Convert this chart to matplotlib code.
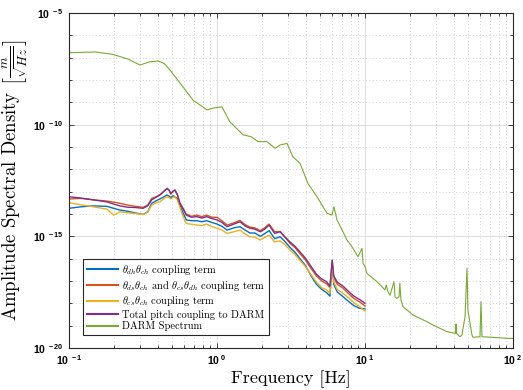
import matplotlib
matplotlib.use("Agg")

import matplotlib.pyplot as plt
import matplotlib.ticker as mticker
import numpy as np

# Frequencies (Hz) shared by the four pitch coupling curves
coupling_freq = [0.1, 0.12, 0.146, 0.18, 0.2, 0.221, 0.25, 0.28, 0.317, 0.34,
                 0.362, 0.39, 0.412, 0.44, 0.46, 0.475, 0.488, 0.505, 0.52, 0.54,
                 0.56, 0.59, 0.62, 0.67, 0.73, 0.79, 0.85, 0.92, 1.0, 1.08,
                 1.17, 1.3, 1.43, 1.55, 1.67, 1.8, 1.96, 2.1, 2.25, 2.45,
                 2.67, 2.85, 3.1, 3.35, 3.64, 3.95, 4.3, 4.7, 5.1, 5.5,
                 5.8, 6.0, 6.15, 6.5, 7.1, 7.7, 8.4, 9.2, 10.0]

# theta_dh theta_ch coupling term (blue)
dh_ch_asd = [1.8e-14, 2.1e-14, 2.3e-14, 2.2e-14, 1.8e-14, 1.5e-14, 1.32e-14, 1.12e-14, 9.5e-15, 1.26e-14,
             3.0e-14, 4.0e-14, 4.7e-14, 6.0e-14, 7.1e-14, 6.3e-14, 5.4e-14, 6.6e-14, 5.9e-14, 5.0e-14,
             2.5e-14, 1.12e-14, 5.4e-15, 5.0e-15, 5.0e-15, 4.5e-15, 5.0e-15, 4.2e-15, 3.55e-15, 2.8e-15,
             1.9e-15, 2.4e-15, 2.7e-15, 1.9e-15, 1.41e-15, 1.41e-15, 1.0e-15, 1.32e-15, 1.8e-15, 7.9e-16,
             9.5e-16, 6.3e-16, 3.3e-16, 2.0e-16, 1.0e-16, 5.0e-17, 1.8e-17, 7.1e-18, 4.2e-18, 3.0e-18,
             2.1e-18, 5.6e-17, 7.1e-18, 3.2e-18, 2.0e-18, 1.26e-18, 7.9e-19, 6.0e-19, 5.6e-19]

# theta_ds theta_ch and theta_cs theta_dh coupling term (red)
cross_asd = [4.7e-14, 5.0e-14, 4.3e-14, 3.8e-14, 3.4e-14, 3.0e-14, 2.5e-14, 2.2e-14, 2.0e-14, 2.5e-14,
             5.0e-14, 6.0e-14, 7.4e-14, 1.07e-13, 1.38e-13, 1.12e-13, 8.3e-14, 1.05e-13, 1.17e-13, 7.6e-14,
             3.3e-14, 1.8e-14, 1.0e-14, 7.9e-15, 8.9e-15, 7.6e-15, 8.9e-15, 7.2e-15, 7.1e-15, 5.0e-15,
             3.2e-15, 4.0e-15, 5.2e-15, 3.3e-15, 2.6e-15, 2.4e-15, 1.8e-15, 2.4e-15, 3.55e-15, 1.6e-15,
             1.66e-15, 1.0e-15, 5.0e-16, 3.2e-16, 1.66e-16, 8.9e-17, 3.8e-17, 1.66e-17, 1.0e-17, 7.6e-18,
             5.0e-18, 7.9e-17, 1.41e-17, 7.1e-18, 4.8e-18, 2.8e-18, 1.66e-18, 1.17e-18, 7.6e-19]

# theta_cs theta_ch coupling term (yellow)
cs_ch_asd = [3.2e-14, 2.6e-14, 2.1e-14, 1.66e-14, 8.9e-15, 1.26e-14, 1.12e-14, 1.05e-14, 9.5e-15, 1.2e-14,
             2.5e-14, 3.2e-14, 3.55e-14, 5.0e-14, 5.9e-14, 5.4e-14, 4.7e-14, 5.6e-14, 5.9e-14, 4.2e-14,
             2.1e-14, 7.9e-15, 3.8e-15, 3.5e-15, 3.2e-15, 3.0e-15, 3.55e-15, 2.75e-15, 2.3e-15, 1.9e-15,
             1.35e-15, 1.6e-15, 1.9e-15, 1.26e-15, 9.5e-16, 9.3e-16, 6.8e-16, 8.9e-16, 1.12e-15, 5.6e-16,
             6.3e-16, 4.5e-16, 2.5e-16, 1.58e-16, 8.3e-17, 4.5e-17, 2.0e-17, 8.9e-18, 5.0e-18, 4.0e-18,
             2.8e-18, 6.3e-17, 8.9e-18, 4.2e-18, 2.8e-18, 1.8e-18, 1.07e-18, 7.1e-19, 4.5e-19]

# Total pitch coupling to DARM (purple)
total_asd = [5.9e-14, 5.2e-14, 4.3e-14, 3.5e-14, 2.8e-14, 2.3e-14, 2.0e-14, 1.95e-14, 1.8e-14, 2.3e-14,
             4.3e-14, 5.75e-14, 7.1e-14, 1.07e-13, 1.41e-13, 1.17e-13, 7.8e-14, 1.07e-13, 1.17e-13, 7.1e-14,
             3.1e-14, 1.66e-14, 8.9e-15, 7.2e-15, 7.6e-15, 6.6e-15, 7.6e-15, 6.3e-15, 5.4e-15, 4.2e-15,
             2.7e-15, 3.55e-15, 4.5e-15, 2.9e-15, 2.3e-15, 2.1e-15, 1.6e-15, 2.1e-15, 3.2e-15, 1.35e-15,
             1.6e-15, 1.0e-15, 5.75e-16, 3.7e-16, 2.0e-16, 1.07e-16, 4.7e-17, 2.0e-17, 1.23e-17, 9.3e-18,
             5.9e-18, 8.7e-17, 1.66e-17, 8.9e-18, 5.9e-18, 3.55e-18, 2.1e-18, 1.48e-18, 1.0e-18]

# DARM spectrum (green)
darm_freq = [0.1, 0.15, 0.198, 0.25, 0.302, 0.35, 0.399, 0.44, 0.481, 0.589,
             0.688, 0.856, 0.95, 1.08, 1.22, 1.5, 1.7, 1.89, 2.18, 2.47,
             2.67, 2.97, 3.26, 3.64, 4.12, 4.74, 5.54, 5.98, 6.17, 6.47,
             7.1, 7.56, 8.17, 8.97, 9.54, 9.7, 10.0, 10.3, 12.05, 13.65,
             13.9, 14.3, 14.75, 15.7, 15.95, 16.4, 16.97, 17.2, 17.5, 18.07,
             21.1, 26.2, 28.8, 35.8, 41.0, 41.2, 41.5, 43.8, 45.2, 47.4,
             48.9, 49.6, 52.8, 53.7, 59.8, 60.8, 61.7, 73.3, 91.0, 100.0]
darm_asd = [1.66e-7, 1.8e-7, 1.4e-7, 8.7e-8, 4.7e-8, 6.5e-8, 7.1e-8, 5.5e-8, 2.8e-8, 4.9e-9,
            1.26e-9, 4.6e-10, 5.6e-10, 6.3e-10, 1.35e-10, 3.5e-11, 2.9e-11, 1.74e-11, 1.74e-11, 8.7e-12,
            1.23e-11, 1.45e-11, 3.6e-12, 1.86e-12, 2.3e-13, 5.9e-14, 1.07e-14, 8.9e-15, 2.1e-14, 5.4e-15,
            1.6e-15, 6.8e-16, 3.4e-16, 1.23e-16, 2.9e-16, 6.2e-17, 4.4e-17, 2.2e-17, 9.3e-18, 4.0e-18,
            6.6e-18, 3.3e-18, 2.3e-18, 9.3e-18, 1.95e-18, 1.66e-18, 1.95e-18, 7.9e-18, 1.41e-18, 7.1e-19,
            3.0e-19, 1.5e-19, 1.07e-19, 5.4e-20, 4.5e-20, 1.17e-19, 4.5e-20, 3.2e-20, 3.8e-20, 2.5e-19,
            3.7e-17, 5.0e-19, 3.8e-20, 3.0e-20, 3.2e-20, 1.17e-18, 3.2e-20, 3.0e-20, 2.7e-20, 2.7e-20]

labels = [r"$\theta_{dh}\theta_{ch}$ coupling term",
          r"$\theta_{ds}\theta_{ch}$ and $\theta_{cs}\theta_{dh}$ coupling term",
          r"$\theta_{cs}\theta_{ch}$ coupling term",
          "Total pitch coupling to DARM",
          "DARM Spectrum"]
colors = ["#0072BD", "#D95319", "#EDB120", "#7E2F8E", "#77AC30"]

plt.rcParams["font.family"] = "serif"
plt.rcParams["font.serif"] = ["cmr10"]
plt.rcParams["mathtext.fontset"] = "cm"
plt.rcParams["axes.unicode_minus"] = False

fig = plt.figure(figsize=(5.23, 3.90), dpi=100)
ax = fig.add_axes([69 / 523, 1 - 348 / 390, 444 / 523, 335 / 390])

series = [dh_ch_asd, cross_asd, cs_ch_asd, total_asd]
for vals, col, lab in zip(series, colors[:4], labels[:4]):
    ax.plot(coupling_freq, vals, color=col, lw=1.0, label=lab)
ax.plot(darm_freq, darm_asd, color=colors[4], lw=0.8, label=labels[4])

ax.set_xscale("log")
ax.set_yscale("log")
ax.set_xlim(0.1, 100)
ax.set_ylim(1e-20, 1e-5)

ax.yaxis.set_major_locator(mticker.FixedLocator([1e-20, 1e-15, 1e-10, 1e-5]))
ax.yaxis.set_minor_locator(mticker.FixedLocator([10.0 ** k for k in range(-19, -5)]))
ax.xaxis.set_major_locator(mticker.LogLocator(base=10, numticks=10))
ax.xaxis.set_minor_locator(mticker.LogLocator(base=10, subs=np.arange(2, 10), numticks=20))
ax.yaxis.set_minor_formatter(mticker.NullFormatter())
ax.xaxis.set_minor_formatter(mticker.NullFormatter())

fmt = mticker.FuncFormatter(lambda v, p: r"$\mathregular{10^{\ %d}}$" % round(np.log10(v)))
ax.xaxis.set_major_formatter(fmt)
ax.yaxis.set_major_formatter(fmt)
for t in ax.get_xticklabels() + ax.get_yticklabels():
    t.set_fontfamily("Liberation Sans")
    t.set_fontweight("bold")
    t.set_fontsize(7.5)

ax.tick_params(which="both", direction="in", top=True, right=True, color="#262626", width=0.6)
ax.tick_params(which="major", length=3.5, pad=4)
ax.tick_params(which="minor", length=2)

ax.set_axisbelow(True)
ax.grid(which="major", color="#dddddd", lw=0.7, ls="-")
ax.grid(which="minor", color="#c4c4c4", lw=0.6, ls=(0, (1, 3)))
for sp in ax.spines.values():
    sp.set_color("#262626")
    sp.set_linewidth(0.8)

ax.set_xlabel("Frequency [Hz]", fontsize=13, labelpad=2)
ax.set_ylabel(r"Amplitude Spectral Density $\left[\frac{m}{\sqrt{Hz}}\right]$", fontsize=13.5)
ax.yaxis.set_label_coords(-0.088, 0.5)

leg = ax.legend(loc="lower left", bbox_to_anchor=(0.032, 0.039), borderaxespad=0,
                fontsize=7.5, fancybox=False, framealpha=1, edgecolor="#262626",
                handlelength=3.0, handletextpad=0.4, labelspacing=0.15, borderpad=0.35)
leg.get_frame().set_linewidth(0.8)
for h in leg.legend_handles:
    h.set_linewidth(1.5)

fig.savefig("out.png", dpi=100)
plt.close(fig)
